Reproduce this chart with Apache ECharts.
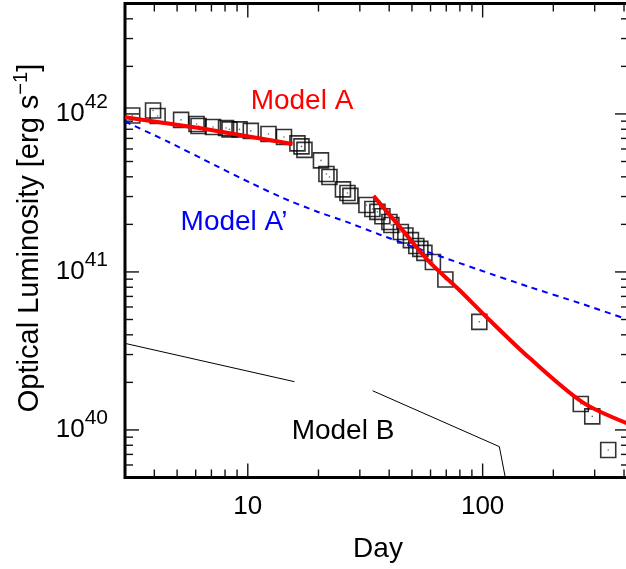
<!DOCTYPE html>
<html>
<head>
<meta charset="utf-8">
<script src="https://cdn.jsdelivr.net/npm/echarts@6/dist/echarts.min.js"></script>
<style>
  html, body { margin: 0; padding: 0; background: #fff; }
  #chart { width: 626px; height: 569px; }
</style>
</head>
<body>
<div id="chart"></div>
<script>
// Observed optical light curve (day, luminosity in erg/s)
const obsDay = [3.22, 3.95, 4.13, 5.20, 6.05, 6.17, 7.11, 8.08, 8.36, 9.22,
  10.3, 12.25, 14.26, 16.27, 16.93, 17.43, 20.49, 21.62, 22.27, 25.42,
  26.57, 27.35, 32.0, 33.93, 35.64, 37.43, 40.09, 40.88, 44.86, 46.89,
  49.5, 52.2, 54.3, 56.5, 61.4, 69.4, 96.8, 261.8, 293.0, 342.6];
const obsLum = [9.78e41, 1.052e42, 9.71e41, 9.17e41, 8.64e41, 8.39e41, 8.27e41, 8.15e41, 7.98e41, 7.98e41,
  7.81e41, 7.47e41, 7.15e41, 6.51e41, 6.23e41, 5.92e41, 5.08e41, 4.17e41, 3.99e41, 3.33e41,
  3.16e41, 3.03e41, 2.65e41, 2.50e41, 2.40e41, 2.25e41, 2.07e41, 1.98e41, 1.79e41, 1.70e41,
  1.59e41, 1.46e41, 1.40e41, 1.32e41, 1.157e41, 8.96e40, 4.83e40, 1.46e40, 1.218e40, 7.47e39];

// Model A: early plateau branch and late decline branch
const modelAEarlyDay = [3, 6.31, 15.5];
const modelAEarlyLum = [9.53e41, 8.12e41, 6.46e41];
const modelALateDay = [34.3, 45.5, 59.3, 79.6, 103.7, 158, 265.7, 420];
const modelALateLum = [3.03e41, 1.845e41, 1.157e41, 7.69e40, 5.19e40, 2.86e40, 1.50e40, 1.09e40];

// Model A'
const modelAPrimeDay = [3, 4.5, 7.34, 10.17, 14.09, 19.42, 26.2, 36.35, 50.4, 96.8, 158, 258, 420];
const modelAPrimeLum = [8.96e41, 6.75e41, 4.69e41, 3.69e41, 2.94e41, 2.43e41, 2.08e41, 1.727e41,
  1.445e41, 1.03e41, 8.04e40, 6.36e40, 4.97e40];

// Model B: two segments
const modelBEarlyDay = [3, 15.8];
const modelBEarlyLum = [3.53e40, 2.02e40];
const modelBLateDay = [34.0, 117.8, 124.9];
const modelBLateLum = [1.77e40, 7.84e39, 5.0e39];

// Axis ranges and tick positions
const dayRange = [3, 420];
const lumRange = [5e39, 5e42];
const xMajorTicks = [10, 100];
const xMinorTicks = [4, 5, 6, 7, 8, 9, 20, 30, 40, 50, 60, 70, 80, 90, 200, 300, 400];
const yMajorTicks = [1e40, 1e41, 1e42];
const yMinorTicks = [6e39, 7e39, 8e39, 9e39,
  2e40, 3e40, 4e40, 5e40, 6e40, 7e40, 8e40, 9e40,
  2e41, 3e41, 4e41, 5e41, 6e41, 7e41, 8e41, 9e41,
  2e42, 3e42, 4e42];

const FONT = "'Liberation Sans', Arial, Helvetica, sans-serif";
const zip = (xs, ys) => xs.map((x, i) => [x, ys[i]]);

const chart = echarts.init(document.getElementById('chart'), null, { renderer: 'canvas' });

function isDecade(v) {
  const e = Math.log10(v);
  return Math.abs(e - Math.round(e)) < 1e-6;
}

const tickStyle = { stroke: '#111', lineWidth: 1.4 };

// Inward ticks on bottom and top edges of the frame
function xTickItem(params, api) {
  const cs = params.coordSys;
  const p = api.coord([api.value(0), api.value(1)]);
  const len = api.value(2) ? 14 : 8;
  const bottom = cs.y + cs.height;
  return {
    type: 'group',
    children: [
      { type: 'line', shape: { x1: p[0], y1: bottom, x2: p[0], y2: bottom - len }, style: tickStyle },
      { type: 'line', shape: { x1: p[0], y1: cs.y, x2: p[0], y2: cs.y + len }, style: tickStyle }
    ]
  };
}

// Inward ticks on left and right edges of the frame
function yTickItem(params, api) {
  const cs = params.coordSys;
  const p = api.coord([api.value(0), api.value(1)]);
  const len = api.value(2) ? 14 : 8;
  const right = cs.x + cs.width;
  return {
    type: 'group',
    children: [
      { type: 'line', shape: { x1: cs.x, y1: p[1], x2: cs.x + len, y2: p[1] }, style: tickStyle },
      { type: 'line', shape: { x1: right, y1: p[1], x2: right - len, y2: p[1] }, style: tickStyle }
    ]
  };
}

const xTickData = xMajorTicks.map(v => [v, lumRange[0], 1]).concat(xMinorTicks.map(v => [v, lumRange[0], 0]));
const yTickData = yMajorTicks.map(v => [dayRange[0], v, 1]).concat(yMinorTicks.map(v => [dayRange[0], v, 0]));

const option = {
  backgroundColor: '#fff',
  animation: false,
  grid: {
    left: 125, top: 3.5, width: 504, height: 474,
    show: true, borderColor: '#000', borderWidth: 3, backgroundColor: 'transparent',
    outerBoundsMode: 'none', containLabel: false
  },
  xAxis: {
    type: 'log', logBase: 10, min: dayRange[0], max: dayRange[1],
    axisLine: { show: false }, axisTick: { show: false }, splitLine: { show: false },
    axisLabel: {
      show: true, margin: 16, color: '#000', fontFamily: FONT, fontSize: 26,
      showMinLabel: true, showMaxLabel: true,
      formatter: v => isDecade(v) ? String(Math.round(v)) : ''
    }
  },
  yAxis: {
    type: 'log', logBase: 10, min: lumRange[0], max: lumRange[1],
    axisLine: { show: false }, axisTick: { show: false }, splitLine: { show: false },
    axisLabel: {
      show: true, margin: 17, color: '#000', fontFamily: FONT,
      showMinLabel: true, showMaxLabel: true,
      formatter: v => isDecade(v) ? '{b|10}{s|' + Math.round(Math.log10(v)) + '}' : '',
      rich: {
        b: { fontSize: 26, fontFamily: FONT, color: '#000', lineHeight: 44 },
        s: { fontSize: 21, fontFamily: FONT, color: '#000', verticalAlign: 'top' }
      }
    }
  },
  series: [
    {
      name: 'Observed', type: 'scatter', data: zip(obsDay, obsLum),
      symbol: 'rect', symbolSize: 15, z: 2,
      itemStyle: { color: 'rgba(0,0,0,0)', borderColor: '#000', borderWidth: 1.6 },
      emphasis: { disabled: true }
    },
    {
      name: 'Observed centre', type: 'scatter', data: zip(obsDay, obsLum),
      symbol: 'circle', symbolSize: 1.6, z: 2,
      itemStyle: { color: '#444' }, emphasis: { disabled: true }
    },
    {
      name: 'Model A early', type: 'line', data: zip(modelAEarlyDay, modelAEarlyLum),
      showSymbol: false, symbol: 'none', z: 4,
      lineStyle: { color: '#ff0000', width: 4 }
    },
    {
      name: 'Model A late', type: 'line', data: zip(modelALateDay, modelALateLum),
      showSymbol: false, symbol: 'none', smooth: 0.3, z: 4,
      lineStyle: { color: '#ff0000', width: 4 }
    },
    {
      name: "Model A'", type: 'line', data: zip(modelAPrimeDay, modelAPrimeLum),
      showSymbol: false, symbol: 'none', smooth: 0.2, z: 3,
      lineStyle: { color: '#0000ff', width: 2, type: [6, 5] }
    },
    {
      name: 'Model B early', type: 'line', data: zip(modelBEarlyDay, modelBEarlyLum),
      showSymbol: false, symbol: 'none', z: 3,
      lineStyle: { color: '#000', width: 1 }
    },
    {
      name: 'Model B late', type: 'line', data: zip(modelBLateDay, modelBLateLum),
      showSymbol: false, symbol: 'none', z: 3,
      lineStyle: { color: '#000', width: 1 }
    },
    {
      name: 'x ticks', type: 'custom', renderItem: xTickItem, data: xTickData,
      encode: { x: 0, y: 1 }, z: 5, silent: true, clip: false
    },
    {
      name: 'y ticks', type: 'custom', renderItem: yTickItem, data: yTickData,
      encode: { x: 0, y: 1 }, z: 5, silent: true, clip: false
    }
  ],
  graphic: [
    {
      type: 'text', x: 302, y: 101, z: 10,
      style: { text: 'Model A', fill: '#ff0000', font: '28px ' + FONT, align: 'center', verticalAlign: 'middle' }
    },
    {
      type: 'text', x: 234, y: 222, z: 10,
      style: { text: 'Model A\u2019', fill: '#0000ff', font: '28px ' + FONT, align: 'center', verticalAlign: 'middle' }
    },
    {
      type: 'text', x: 343, y: 431, z: 10,
      style: { text: 'Model B', fill: '#000', font: '28px ' + FONT, align: 'center', verticalAlign: 'middle' }
    },
    {
      type: 'text', x: 378, y: 549, z: 10,
      style: { text: 'Day', fill: '#000', font: '28px ' + FONT, align: 'center', verticalAlign: 'middle' }
    },
    {
      type: 'text', x: 30, y: 238, rotation: Math.PI / 2, z: 10,
      style: {
        text: '{t|Optical Luminosity [erg s}{s|\u22121}{t|]}',
        align: 'center', verticalAlign: 'middle', fill: '#000',
        rich: {
          t: { fontSize: 29, fontFamily: FONT, color: '#000', lineHeight: 38 },
          s: { fontSize: 20, fontFamily: FONT, color: '#000', verticalAlign: 'top' }
        }
      }
    }
  ]
};

chart.setOption(option);
</script>
</body>
</html>
